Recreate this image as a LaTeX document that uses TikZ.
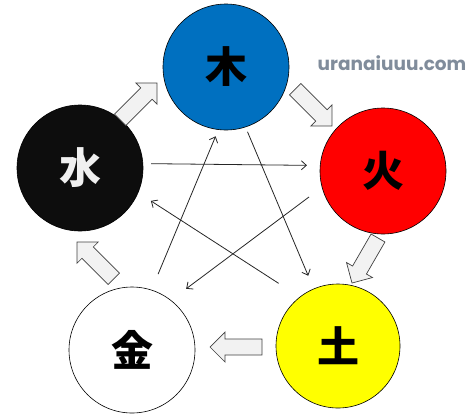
\documentclass[tikz,border=0pt]{standalone}
\usepackage{fontspec}
\newfontfamily\cjk{Noto Sans CJK JP}
\newfontfamily\webfont{Poppins}
\usetikzlibrary{arrows.meta}
\definecolor{woodblue}{HTML}{0070C0}
\definecolor{firered}{HTML}{FF0000}
\definecolor{earthyellow}{HTML}{FFFF00}
\definecolor{waterblack}{HTML}{0D0D0D}
\definecolor{arrowfill}{HTML}{F2F2F2}
\definecolor{arrowedge}{HTML}{404040}
\definecolor{urlgray}{RGB}{128,140,155}
\newcommand{\kanji}[1]{\raisebox{3.5pt}{#1}}
\tikzset{
  elem/.style={circle, draw=black, line width=0.6pt, minimum size=126pt, inner sep=0pt,
    font=\cjk\bfseries\fontsize{42}{42}\selectfont},
  blockarrow/.style={draw=arrowedge, fill=arrowfill, line width=0.7pt, line join=miter},
  thinarrow/.style={-{Straight Barb[length=5pt,width=9pt]}, line width=0.8pt, draw=black!85}
}
\newcommand{\blockarr}[3]{%
  \begin{scope}[shift={(#1,#2)}, rotate=#3]
    \draw[blockarrow] (-26,-8) -- (11,-8) -- (11,-15) -- (26,0) -- (11,15) -- (11,8) -- (-26,8) -- cycle;
  \end{scope}}
\begin{document}
\begin{tikzpicture}[x=1pt, y=-1pt]
  \useasboundingbox (0,0) rectangle (473,418);
  % elements
  \node[elem, fill=woodblue] (mu) at (226,67) {\kanji{木}};
  \node[elem, fill=firered] (huo) at (383,171) {\kanji{火}};
  \node[elem, fill=earthyellow, minimum size=124pt] (tu) at (338,346) {\kanji{土}};
  \node[elem, fill=white] (jin) at (132,350) {\kanji{金}};
  \node[elem, fill=waterblack, text=white!94!black] (shui) at (80,168) {\kanji{水}};
  % site name
  \node[font=\webfont\bfseries\fontsize{18.5}{20}\selectfont, text=urlgray, inner sep=0pt] (url) at (392,63) {uranaiuuu.com};
  % generating cycle (block arrows)
  \blockarr{138.6}{101.4}{45}
  \blockarr{313.6}{107.6}{-45}
  \blockarr{365}{260.5}{-120}
  \blockarr{236}{347}{180}
  \blockarr{95.4}{260.4}{135}
  % controlling cycle (thin arrows)
  \draw[thinarrow, shorten <=8pt, shorten >=13pt] (shui.4) -- (huo.175);
  \draw[thinarrow, shorten <=16pt, shorten >=19pt] (huo.195) -- (jin.52);
  \draw[thinarrow, shorten <=25pt, shorten >=15pt] (tu.128) -- (shui.-23);
  \draw[thinarrow, shorten <=17pt, shorten >=7pt] (jin.72) -- (mu.263);
  \draw[thinarrow, shorten <=5pt, shorten >=14pt] (mu.-72) -- (tu.113);
\end{tikzpicture}
\end{document}
